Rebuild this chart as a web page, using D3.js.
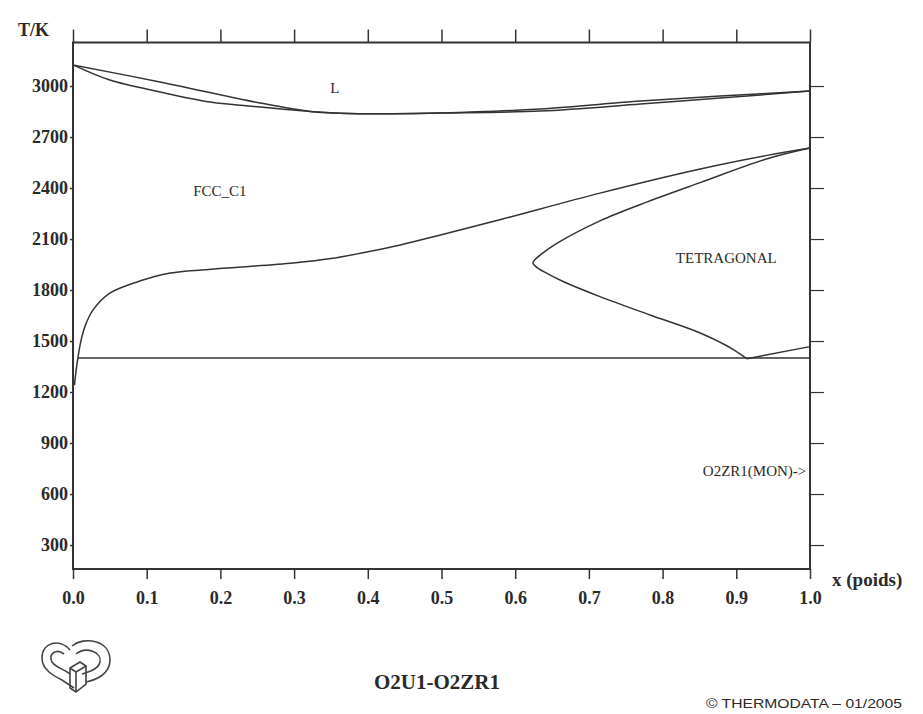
<!DOCTYPE html>
<html>
<head>
<meta charset="utf-8">
<script src="https://cdn.jsdelivr.net/npm/d3@7"></script>
<style>
  body { margin: 0; background: #fff; }
  svg text { fill: #2a2a2a; }
  .tick-lab { font-family: "Liberation Serif", "Times New Roman", serif; font-weight: bold; font-size: 18px; }
  .phase { font-family: "Liberation Serif", "Times New Roman", serif; font-size: 14px; }
</style>
</head>
<body>
<script>
// ----- data (x = mass fraction O2ZR1, T in K) -----
var xTicks = [0, 0.1, 0.2, 0.3, 0.4, 0.5, 0.6, 0.7, 0.8, 0.9, 1.0];
var yTicks = [300, 600, 900, 1200, 1500, 1800, 2100, 2400, 2700, 3000];

var liquidus = [[0, 3124], [0.118, 3024], [0.254, 2900], [0.322, 2850], [0.362, 2840],
  [0.43, 2837], [0.498, 2841], [0.634, 2865], [0.77, 2912], [0.878, 2941], [1, 2970]];
var solidus = [[0, 3124], [0.05, 3035], [0.118, 2965], [0.186, 2906], [0.254, 2876],
  [0.322, 2850], [0.362, 2840], [0.43, 2837], [0.498, 2841], [0.634, 2853], [0.77, 2894],
  [0.878, 2929], [1, 2970]];
var fccSolvus = [[0.002, 1240], [0.004, 1320], [0.007, 1410], [0.011, 1505], [0.017, 1595],
  [0.027, 1682], [0.05, 1782], [0.095, 1859], [0.132, 1900], [0.209, 1929], [0.299, 1959],
  [0.35, 1985], [0.4, 2025], [0.444, 2065], [0.5, 2125], [0.579, 2213], [0.715, 2370],
  [0.851, 2512], [0.942, 2592], [1, 2635]];
var tetraBoundary = [[1, 2635], [0.942, 2572], [0.851, 2432], [0.78, 2320], [0.715, 2207],
  [0.657, 2076], [0.635, 2010], [0.626, 1975], [0.624, 1958], [0.628, 1938], [0.64, 1905],
  [0.665, 1850], [0.715, 1761], [0.783, 1653], [0.851, 1547], [0.896, 1450], [0.914, 1396]];
var eutectoid = [[0.007, 1400], [1, 1400]];
var monoBoundary = [[0.914, 1396], [1, 1467]];

var phaseLabels = [
  { text: "L", x: 0.349, t: 2960, anchor: "start", size: 15 },
  { text: "FCC_C1", x: 0.163, t: 2353, anchor: "start", size: 15 },
  { text: "TETRAGONAL", x: 0.818, t: 1959, anchor: "start", size: 15 },
  { text: "O2ZR1(MON)->", x: 0.995, t: 706, anchor: "end", size: 15 }
];

var title = "O2U1-O2ZR1";
var credit = "\u00A9 THERMODATA \u2013 01/2005";

// ----- layout -----
var W = 923, H = 714;
var pL = 73, pR = 810, pT = 42.5, pB = 569;
var ink = "#333";

var svg = d3.select("body").append("svg")
  .attr("width", W).attr("height", H);

var x = d3.scaleLinear().domain([0, 1]).range([pL, pR]);
var y = d3.scaleLinear().domain([159, 3256]).range([pB, pT]);

// frame
svg.append("rect")
  .attr("x", pL).attr("y", pT)
  .attr("width", pR - pL).attr("height", pB - pT)
  .attr("fill", "none").attr("stroke", ink).attr("stroke-width", 2);

// bottom axis
var gx = svg.append("g")
  .attr("transform", "translate(0," + pB + ")")
  .call(d3.axisBottom(x).tickValues(xTicks).tickSize(10).tickPadding(12)
    .tickFormat(d3.format(".1f")));
gx.select(".domain").remove();
gx.selectAll("line").attr("stroke", ink).attr("stroke-width", 1.5);
gx.selectAll("text").attr("class", "tick-lab").attr("fill", "#2a2a2a");

// top axis (ticks only)
var gxt = svg.append("g")
  .attr("transform", "translate(0," + pT + ")")
  .call(d3.axisTop(x).tickValues(xTicks).tickSize(13).tickFormat(""));
gxt.select(".domain").remove();
gxt.selectAll("line").attr("stroke", ink).attr("stroke-width", 1.5);

// left axis
var gy = svg.append("g")
  .attr("transform", "translate(" + pL + ",0)")
  .call(d3.axisLeft(y).tickValues(yTicks).tickSize(3).tickPadding(2).tickFormat(d3.format("d")));
gy.select(".domain").remove();
gy.selectAll("line").attr("stroke", ink).attr("stroke-width", 1.5);
gy.selectAll("text").attr("class", "tick-lab").attr("fill", "#2a2a2a");

// right axis (ticks only)
var gyr = svg.append("g")
  .attr("transform", "translate(" + pR + ",0)")
  .call(d3.axisRight(y).tickValues(yTicks).tickSize(14).tickFormat(""));
gyr.select(".domain").remove();
gyr.selectAll("line").attr("stroke", ink).attr("stroke-width", 1.2);

// axis titles
svg.append("text").attr("class", "tick-lab")
  .attr("x", 18).attr("y", 36).text("T/K");
svg.append("text").attr("class", "tick-lab")
  .attr("x", 832).attr("y", 586).style("font-size", "19px").text("x (poids)");

// phase boundaries
var line = d3.line()
  .x(function(d) { return x(d[0]); })
  .y(function(d) { return y(d[1]); })
  .curve(d3.curveCatmullRom.alpha(0.5));

var curves = [liquidus, solidus, fccSolvus, tetraBoundary, eutectoid, monoBoundary];
svg.append("g").selectAll("path")
  .data(curves)
  .enter().append("path")
  .attr("d", line)
  .attr("fill", "none")
  .attr("stroke", ink)
  .attr("stroke-width", 1.5);

// phase labels
svg.append("g").selectAll("text")
  .data(phaseLabels)
  .enter().append("text")
  .attr("class", "phase")
  .attr("x", function(d) { return x(d.x); })
  .attr("y", function(d) { return y(d.t); })
  .attr("text-anchor", function(d) { return d.anchor; })
  .style("font-size", function(d) { return d.size + "px"; })
  .text(function(d) { return d.text; });

// title + credit
svg.append("text").attr("class", "tick-lab")
  .attr("x", 437).attr("y", 689).attr("text-anchor", "middle")
  .style("font-size", "21px").text(title);
svg.append("text")
  .attr("x", 902).attr("y", 708).attr("text-anchor", "end")
  .style("font-family", "'Liberation Sans', Arial, sans-serif")
  .style("font-size", "13px")
  .attr("textLength", 196).attr("lengthAdjust", "spacingAndGlyphs")
  .text(credit);

// logo (rough sketch of the Thermodata mark)
var logo = svg.append("g")
  .attr("transform", "translate(40,640)")
  .attr("fill", "none").attr("stroke", "#444").attr("stroke-width", 1.6);
logo.append("path")
  .attr("d", "M30,10 C20,-2 2,2 2,18 C2,30 14,36 22,40 L34,48");
logo.append("path")
  .attr("d", "M32,6 C44,-4 70,0 70,20 C70,34 56,40 46,42");
logo.append("path")
  .attr("d", "M24,14 C16,8 8,14 12,22 C16,28 26,30 30,34");
logo.append("path")
  .attr("d", "M36,14 C46,6 62,12 60,22 C58,30 48,32 42,34");
logo.append("path")
  .attr("d", "M30,28 L40,22 L46,26 L46,44 L36,52 L30,48 Z M30,28 L36,32 L46,26 M36,32 L36,52");
</script>
</body>
</html>
